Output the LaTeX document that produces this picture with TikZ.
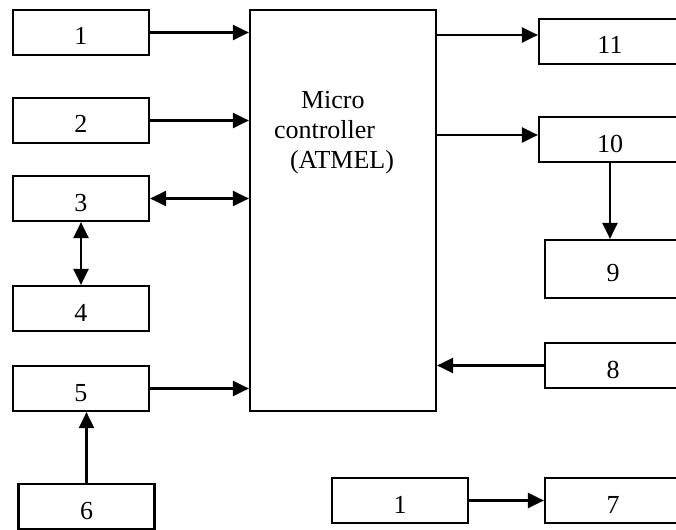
\documentclass[tikz,border=0pt]{standalone}
\usepackage{fontspec}
\setmainfont{Liberation Serif}
\usetikzlibrary{arrows.meta, positioning}

\begin{document}
\begin{tikzpicture}[
  x=0.5pt, y=-0.5pt,
  blk/.style={rectangle, draw=black, line width=1.1pt, fill=white,
             minimum width=68pt, minimum height=22.5pt, inner sep=0pt,
             text height=12.5pt, text depth=0pt,
             font=\fontsize{13}{15}\selectfont},
  wideblk/.style={blk, minimum width=71pt},
  mcblk/.style={rectangle, draw=black, line width=1.1pt, fill=white,
             minimum width=93pt, minimum height=200.5pt, inner sep=0pt},
  arrow/.style={-{Triangle[length=8pt,width=7.5pt]}, line width=1.1pt},
  dblarrow/.style={{Triangle[length=8pt,width=7.5pt]}-{Triangle[length=8pt,width=7.5pt]}, line width=1.1pt}
]
\useasboundingbox (0,0) rectangle (676,530);

% micro controller
\node[mcblk] (mc) at (343,210.5) {};
\node[align=left, inner sep=0pt, font=\fontsize{13}{15}\selectfont] (mclabel) at (334,133)
  {\hspace*{13.5pt}Micro\\controller\\\hspace*{8pt}(ATMEL)};

% left column
\node[blk] (in1) at (81,32.5) {1};
\node[blk] (in2) at (81,120.5) {2};
\node[blk] (in3) at (81,198.5) {3};
\node[blk] (in4) at (81,308.5) {4};
\node[blk] (in5) at (81,388.5) {5};
\node[blk] (in6) at (86.5,506.5) {6};

% right column
\node[wideblk] (out11) at (610,41.5) {11};
\node[wideblk] (out10) at (610,139.5) {10};
\node[blk, minimum height=29pt] (out9) at (613,269) {9};
\node[blk] (in8) at (613,365.5) {8};
\node[blk] (src1) at (400,500.5) {1};
\node[blk] (out7) at (613,500.5) {7};

\draw[arrow] (in1.east) -- (in1.east -| mc.west);
\draw[arrow] (in2.east) -- (in2.east -| mc.west);
\draw[dblarrow] (in3.east) -- (in3.east -| mc.west);
\draw[dblarrow] (in3.south) -- (in4.north);
\draw[arrow] (in5.east) -- (in5.east -| mc.west);
\draw[arrow] (in6.north) -- (in6.north |- in5.south);

\draw[arrow] ([yshift=3.25pt]out11.west -| mc.east) -- ([yshift=3.25pt]out11.west);
\draw[arrow] ([yshift=2.25pt]out10.west -| mc.east) -- ([yshift=2.25pt]out10.west);
\draw[arrow] (out10.south) -- (out10.south |- out9.north);
\draw[arrow] (in8.west) -- (in8.west -| mc.east);
\draw[arrow] (src1.east) -- (out7.west);

\end{tikzpicture}
\end{document}
